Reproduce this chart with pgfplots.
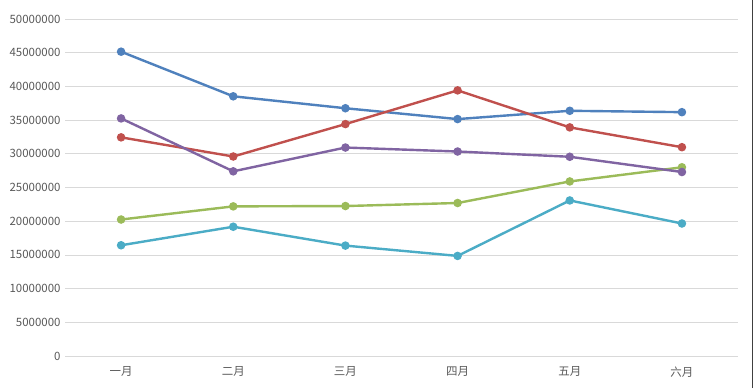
\documentclass[border=0pt]{standalone}
\usepackage{pgfplots}
\pgfplotsset{compat=1.18}
\usepackage{fontspec}
\setmainfont{Noto Sans CJK SC}
\definecolor{cblue}{HTML}{4F81BD}
\definecolor{cred}{HTML}{C0504D}
\definecolor{cgreen}{HTML}{9BBB59}
\definecolor{cpurple}{HTML}{8064A2}
\definecolor{cteal}{HTML}{4BACC6}
\definecolor{gridc}{HTML}{D9D9D9}
\definecolor{tickc}{HTML}{595959}
\begin{document}
\begin{tikzpicture}[x=1bp,y=1bp]
\path[use as bounding box, fill=white] (0,0) rectangle (755,388);
\begin{axis}[
  at={(65bp,32bp)}, anchor=south west,
  scale only axis, width=673bp, height=337bp,
  xmin=-0.5, xmax=5.5, ymin=0, ymax=50000000,
  xtick={0,1,2,3,4,5},
  xticklabels={一月,二月,三月,四月,五月,六月},
  ytick={0,5000000,10000000,15000000,20000000,25000000,30000000,35000000,40000000,45000000,50000000},
  scaled y ticks=false,
  yticklabel style={/pgf/number format/fixed,/pgf/number format/1000 sep={},xshift=-1bp},
  xticklabel style={yshift=-7bp},
  /pgf/number format/assume math mode=true,
  tick label style={font=\fontsize{11.5}{13}\selectfont, text=tickc},
  major tick length=0pt,
  axis line style={draw=none},
  ymajorgrids, grid style={gridc, line width=0.8bp},
  every axis plot/.append style={line width=2.4bp, mark=*, mark size=3bp},
  clip=false,
]
\addplot[cblue, mark options={fill=cblue}] coordinates {(0,45150000) (1,38530000) (2,36760000) (3,35150000) (4,36380000) (5,36180000)};
\addplot[cred, mark options={fill=cred}] coordinates {(0,32440000) (1,29600000) (2,34410000) (3,39410000) (4,33920000) (5,30980000)};
\addplot[cgreen, mark options={fill=cgreen}] coordinates {(0,20250000) (1,22200000) (2,22250000) (3,22700000) (4,25900000) (5,28000000)};
\addplot[cpurple, mark options={fill=cpurple}] coordinates {(0,35250000) (1,27400000) (2,30930000) (3,30340000) (4,29560000) (5,27300000)};
\addplot[cteal, mark options={fill=cteal}] coordinates {(0,16430000) (1,19180000) (2,16380000) (3,14850000) (4,23080000) (5,19660000)};
\end{axis}
\draw[black!75, line width=0.8bp] (752.5,0) -- (752.5,388);
\end{tikzpicture}
\end{document}
